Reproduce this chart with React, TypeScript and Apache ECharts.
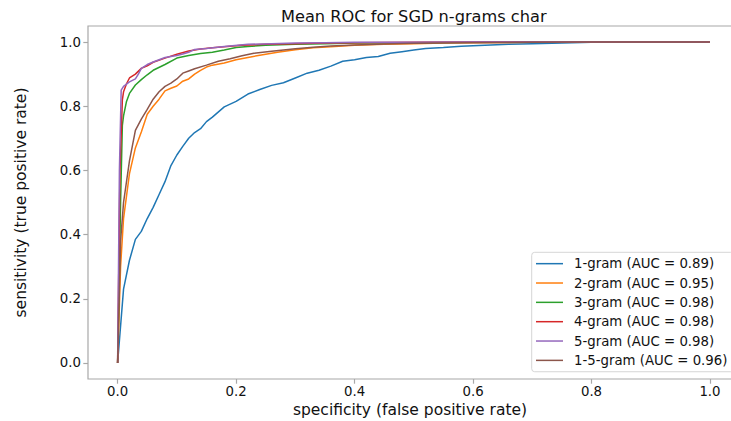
import React, { useEffect, useRef } from "react";
import * as echarts from "echarts";

const seriesNames = [
  "1-gram (AUC = 0.89)",
  "2-gram (AUC = 0.95)",
  "3-gram (AUC = 0.98)",
  "4-gram (AUC = 0.98)",
  "5-gram (AUC = 0.98)",
  "1-5-gram (AUC = 0.96)",
];
const colors = ["#1f77b4", "#ff7f0e", "#2ca02c", "#d62728", "#9467bd", "#8c564b"];
const tickValues = [0, 0.2, 0.4, 0.6, 0.8, 1.0];

const fpr1 = [0, 0.01, 0.02, 0.03, 0.04, 0.05, 0.06, 0.07, 0.08, 0.09, 0.10, 0.11, 0.12, 0.13, 0.14, 0.15, 0.16, 0.18, 0.20, 0.22, 0.24, 0.26, 0.28, 0.30, 0.32, 0.34, 0.36, 0.38, 0.40, 0.42, 0.44, 0.46, 0.48, 0.50, 0.52, 0.55, 0.58, 0.62, 0.66, 0.70, 0.75, 0.80, 0.90, 1.0];
const tpr1 = [0, 0.23, 0.32, 0.385, 0.41, 0.45, 0.485, 0.525, 0.565, 0.615, 0.648, 0.675, 0.70, 0.718, 0.73, 0.752, 0.766, 0.798, 0.815, 0.838, 0.852, 0.865, 0.873, 0.888, 0.903, 0.912, 0.925, 0.94, 0.945, 0.952, 0.955, 0.965, 0.97, 0.975, 0.98, 0.983, 0.987, 0.99, 0.993, 0.995, 0.997, 0.999, 1.0, 1.0];

const fpr2 = [0, 0.005, 0.01, 0.015, 0.02, 0.03, 0.04, 0.05, 0.06, 0.07, 0.08, 0.09, 0.10, 0.11, 0.12, 0.13, 0.14, 0.15, 0.16, 0.18, 0.20, 0.22, 0.24, 0.27, 0.30, 0.33, 0.36, 0.40, 0.45, 0.50, 0.55, 0.60, 0.70, 0.80, 1.0];
const tpr2 = [0, 0.3, 0.45, 0.52, 0.59, 0.67, 0.72, 0.775, 0.8, 0.822, 0.848, 0.856, 0.863, 0.878, 0.885, 0.9, 0.912, 0.922, 0.928, 0.935, 0.945, 0.952, 0.959, 0.968, 0.976, 0.982, 0.985, 0.99, 0.993, 0.995, 0.997, 0.998, 0.999, 1.0, 1.0];

const fpr3 = [0, 0.005, 0.008, 0.01, 0.015, 0.02, 0.03, 0.04, 0.05, 0.06, 0.08, 0.10, 0.12, 0.14, 0.16, 0.18, 0.20, 0.22, 0.25, 0.30, 0.35, 0.40, 0.50, 0.60, 0.80, 1.0];
const tpr3 = [0, 0.5, 0.74, 0.77, 0.815, 0.84, 0.866, 0.883, 0.898, 0.912, 0.93, 0.95, 0.958, 0.964, 0.968, 0.975, 0.983, 0.986, 0.99, 0.993, 0.995, 0.997, 0.998, 0.999, 1.0, 1.0];

const fpr4 = [0, 0.004, 0.008, 0.01, 0.015, 0.02, 0.03, 0.04, 0.05, 0.06, 0.08, 0.10, 0.12, 0.14, 0.16, 0.18, 0.21, 0.25, 0.30, 0.35, 0.40, 0.50, 0.60, 0.80, 1.0];
const tpr4 = [0, 0.6, 0.82, 0.845, 0.87, 0.888, 0.9, 0.918, 0.926, 0.937, 0.95, 0.962, 0.972, 0.978, 0.982, 0.985, 0.99, 0.993, 0.995, 0.997, 0.998, 0.999, 1.0, 1.0, 1.0];

const fpr5 = [0, 0.003, 0.006, 0.01, 0.02, 0.03, 0.035, 0.04, 0.05, 0.06, 0.08, 0.10, 0.11, 0.12, 0.13, 0.15, 0.18, 0.22, 0.26, 0.30, 0.35, 0.40, 0.50, 0.60, 0.80, 1.0];
const tpr5 = [0, 0.6, 0.85, 0.862, 0.876, 0.885, 0.9, 0.918, 0.93, 0.938, 0.952, 0.958, 0.963, 0.968, 0.977, 0.98, 0.986, 0.993, 0.995, 0.997, 0.998, 0.999, 0.999, 1.0, 1.0, 1.0];

const fpr6 = [0, 0.005, 0.01, 0.02, 0.03, 0.04, 0.05, 0.06, 0.07, 0.08, 0.09, 0.10, 0.11, 0.12, 0.13, 0.15, 0.17, 0.19, 0.21, 0.23, 0.26, 0.30, 0.33, 0.36, 0.40, 0.45, 0.50, 0.60, 0.70, 0.80, 1.0];
const tpr6 = [0, 0.38, 0.5, 0.63, 0.725, 0.76, 0.79, 0.822, 0.845, 0.862, 0.872, 0.885, 0.903, 0.91, 0.917, 0.928, 0.94, 0.948, 0.957, 0.965, 0.971, 0.979, 0.984, 0.988, 0.991, 0.994, 0.996, 0.998, 0.999, 1.0, 1.0];

const fprs = [fpr1, fpr2, fpr3, fpr4, fpr5, fpr6];
const tprs = [tpr1, tpr2, tpr3, tpr4, tpr5, tpr6];

const FONT = "DejaVu Sans";
const SPINE = "#a8a8a8";

export default function App() {
  const ref = useRef<HTMLDivElement>(null);
  useEffect(() => {
    document.body.style.margin = "0";
    const chart = echarts.init(ref.current!, null, { renderer: "svg" });
    const gridLeft = 88, gridTop = 26, gridW = 651.6, gridH = 353;
    const cx = gridLeft + gridW / 2;
    chart.setOption({
      animation: false,
      backgroundColor: "#ffffff",
      grid: {
        left: gridLeft, top: gridTop, width: gridW, height: gridH,
        containLabel: false, outerBoundsMode: "none",
        show: true, borderColor: SPINE, borderWidth: 1.2, backgroundColor: "transparent",
      },
      xAxis: {
        type: "value", min: -0.05, max: 1.05,
        splitLine: { show: false },
        axisLine: { show: false, onZero: false },
        axisTick: { show: true, customValues: tickValues, length: 4.7, lineStyle: { color: SPINE, width: 1.2 } },
        axisLabel: {
          customValues: tickValues, margin: 5.5,
          formatter: (v: number) => v.toFixed(1),
          fontFamily: FONT, fontSize: 13.3, color: "#111",
        },
      },
      yAxis: {
        type: "value", min: -0.05, max: 1.05,
        splitLine: { show: false },
        axisLine: { show: false, onZero: false },
        axisTick: { show: true, customValues: tickValues, length: 4.7, lineStyle: { color: SPINE, width: 1.2 } },
        axisLabel: {
          customValues: tickValues, margin: 7,
          formatter: (v: number) => v.toFixed(1),
          fontFamily: FONT, fontSize: 13.3, color: "#111",
        },
      },
      legend: {
        orient: "vertical",
        left: 531.7, top: 252.3,
        padding: [1.7, 6, 1.7, 4.3],
        backgroundColor: "#ffffff",
        borderColor: "#d6d6d6", borderWidth: 1, borderRadius: 3,
        itemWidth: 27, itemHeight: 1.5, itemGap: 0,
        icon: "rect",
        data: seriesNames,
        textStyle: { fontFamily: FONT, fontSize: 13.3, color: "#111", lineHeight: 19.34, padding: [0, 0, 0, 6] },
      },
      series: seriesNames.map((name, i) => ({
        name, type: "line",
        data: fprs[i].map((x, j) => [x, tprs[i][j]]),
        showSymbol: false, symbol: "none",
        lineStyle: { color: colors[i], width: 1.5 },
        itemStyle: { color: colors[i] },
        clip: true,
      })),
      graphic: [
        { type: "text", x: cx, y: 16.2, style: { text: "Mean ROC for SGD n-grams char", font: `16.2px "${FONT}"`, fill: "#111", align: "center", verticalAlign: "middle" } },
        { type: "text", x: 410, y: 409.6, style: { text: "specificity (false positive rate)", font: `15.5px "${FONT}"`, fill: "#111", align: "center", verticalAlign: "middle" } },
        { type: "text", x: 20.6, y: gridTop + gridH / 2, rotation: Math.PI / 2, style: { text: "sensitivity (true positive rate)", font: `15.5px "${FONT}"`, fill: "#111", align: "center", verticalAlign: "middle" } },
      ],
    });
    return () => chart.dispose();
  }, []);
  return <div ref={ref} style={{ width: 731, height: 421 }} />;
}
